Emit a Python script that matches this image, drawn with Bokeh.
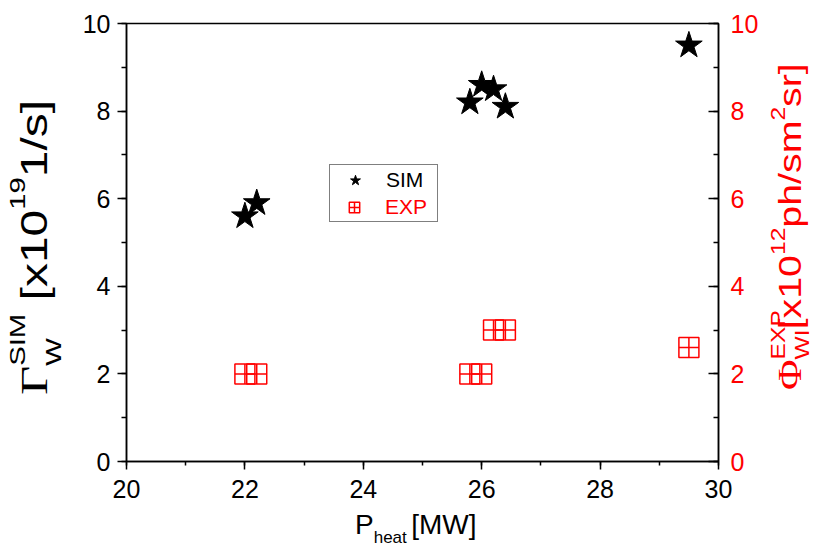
from bokeh.plotting import figure
from bokeh.models import (Range1d, LinearAxis, SingleIntervalTicker, Legend, LegendItem, Div)
from bokeh.layouts import column
from bokeh.embed import file_html
from bokeh.resources import INLINE

# ---- data ----
p_sim = [22.0, 22.2, 25.8, 26.0, 26.2, 26.4, 29.5]
gamma_sim = [5.6, 5.9, 8.2, 8.6, 8.5, 8.1, 9.5]
p_exp = [22.0, 22.2, 25.8, 26.0, 26.2, 26.4, 29.5]
phi_exp = [2.0, 2.0, 2.0, 2.0, 3.0, 3.0, 2.6]

SANS = "Liberation Sans"
SERIF = "Liberation Serif"
RED = "#FF0000"

FL, FT, FR, FB = 126, 23, 718, 461  # frame edges in page pixels
W, H = 820, 555

p = figure(width=W, height=H, output_backend="svg", toolbar_location=None,
           x_range=Range1d(20, 30), y_range=Range1d(0, 10),
           min_border_left=FL, min_border_right=W - FR, min_border_top=FT, min_border_bottom=H - FB,
           background_fill_color="white", border_fill_color="white")
p.extra_y_ranges = {"exp": Range1d(0, 10)}
p.grid.visible = False
p.outline_line_color = "black"
p.outline_line_width = 1.5

for ax in (p.xaxis[0], p.yaxis[0]):
    ax.ticker = SingleIntervalTicker(interval=2, num_minor_ticks=2)
    ax.axis_line_width = 1.5
    ax.major_tick_line_width = 1.5
    ax.minor_tick_line_width = 1.5
    ax.major_tick_in = 0
    ax.minor_tick_in = 0
    ax.major_label_text_font = SANS
    ax.major_label_text_font_size = "25px"
    ax.major_label_text_color = "black"
p.xaxis[0].major_tick_out = 8
p.xaxis[0].minor_tick_out = 4
p.xaxis[0].major_label_standoff = 10
p.yaxis[0].major_tick_out = 9
p.yaxis[0].minor_tick_out = 5
p.yaxis[0].major_label_standoff = 7

rax = LinearAxis(y_range_name="exp", ticker=SingleIntervalTicker(interval=2, num_minor_ticks=2))
rax.axis_line_width = 1.5
rax.major_tick_line_width = 1.5
rax.minor_tick_line_width = 1.5
rax.major_tick_in = 10
rax.major_tick_out = 0
rax.minor_tick_in = 5
rax.minor_tick_out = 0
rax.major_label_standoff = 12
rax.major_label_text_font = SANS
rax.major_label_text_font_size = "25px"
rax.major_label_text_color = RED
p.add_layout(rax, "right")

sim_r = p.scatter(p_sim, gamma_sim, marker="star", size=28, fill_color="black", line_color="black")
exp_r = p.scatter(p_exp, phi_exp, marker="square_cross", size=20, fill_color=None,
                  line_color=RED, line_width=1.5, y_range_name="exp")
dummy = p.scatter([], [], marker="circle", size=1, fill_alpha=0, line_alpha=0)

# ---- legend (two overlaid legends for differently coloured labels) ----
leg_loc = (329 - FL, FB - 222)
common = dict(location=leg_loc, padding=2, spacing=0, glyph_width=46, glyph_height=26,
              label_height=26, label_width=49, label_standoff=8,
              label_text_font=SANS, label_text_font_size="21px", margin=0)
leg1 = Legend(items=[LegendItem(label="SIM", renderers=[sim_r]),
                     LegendItem(label=" ", renderers=[dummy])],
              border_line_color="black", border_line_width=1.2,
              background_fill_color="white", background_fill_alpha=1.0,
              label_text_color="black", **common)
leg2 = Legend(items=[LegendItem(label="EXP", renderers=[exp_r])],
              border_line_alpha=0, background_fill_alpha=0,
              label_text_color=RED, **common)
p.add_layout(leg1)
p.add_layout(leg2)

# ---- axis titles (HTML text with sub/superscripts) ----
AW = {' ': 278, '[': 278, ']': 278, 'x': 500, '0': 556, '1': 556, '2': 556, '9': 556,
      '/': 278, 's': 500, 'p': 556, 'h': 556, 'm': 833, 'r': 333, 'S': 667, 'I': 278,
      'M': 833, 'W': 944, 'E': 667, 'X': 667, 'P': 667, 'e': 556, 'a': 556, 't': 278,
      'Γ': 578, 'Φ': 763}
def tw(s, size):
    return sum(AW.get(c, 556) for c in s) * size / 1000.0

def span(text, size, shift=0, font=SANS, extra=""):
    st = f"font-family:'{font}';font-size:{size}px;"
    if shift:
        st += f"position:relative;top:{shift}px;"
    return f'<span style="{st}{extra}">{text}</span>'

def title_div(html, left, top, color, size, rotate=False, stretch=1.0):
    styles = {"position": "absolute", "left": f"{left:.1f}px", "top": f"{top:.1f}px",
              "color": color, "white-space": "nowrap", "line-height": "1",
              "font-family": SANS, "font-size": f"{size}px", "margin": "0", "padding": "0",
              "width": "max-content"}
    if rotate:
        styles["transform"] = f"rotate(-90deg) scale({stretch:.3f}, 1)"
        styles["transform-origin"] = "0 0"
    return Div(text=html, styles=styles)

ASC_SANS, ASC_SERIF = 0.8465, 0.8375

# bottom: P_heat [MW]
F, S = 28, 17
html_x = (span("P", F) + span("heat", S, shift=9) + span(" ", 16) + span("[MW]", F))
div_x = title_div(html_x, 355, 535 - ASC_SANS * F, "black", F)

# left: Γ_W^SIM [x10^19 1/s]
F, S, G = 36, 22, 38
w_sub = tw("W", S)
html_l = (span("Γ", G, font=SERIF) + span("W", S, shift=14)
          + span("SIM", S, shift=-22, extra=f"margin-left:-{w_sub:.1f}px;")
          + span(" ", F) + span("[x10", F) + span("19", S, shift=-22) + span("1/s]", F))
nat_l = tw("Γ", G) + tw("SIM", S) + tw(" ", F) + tw("[x10", F) + tw("19", S) + tw("1/s]", F)
start_l, end_l = 395, 100
div_l = title_div(html_l, 47 - ASC_SERIF * G, start_l, "black", F, rotate=True,
                  stretch=(start_l - end_l) / nat_l)

# right: Φ_WI^EXP [x10^12 ph/sm^2 sr]
F, S, G = 32, 20, 34
w_sub, w_sup = tw("WI", S), tw("EXP", S)
html_r = (span("Φ", G, font=SERIF) + span("WI", S, shift=8)
          + span("EXP", S, shift=-16,
                 extra=f"margin-left:-{w_sub:.1f}px;margin-right:-{w_sup - w_sub:.1f}px;")
          + span("[x10", F) + span("12", S, shift=-16) + span("ph/sm", F)
          + span("2", S, shift=-16) + span("sr]", F))
nat_r = (tw("Φ", G) + tw("WI", S) + tw("[x10", F) + tw("12", S) + tw("ph/sm", F)
         + tw("2", S) + tw("sr]", F))
start_r, end_r = 390, 62
div_r = title_div(html_r, 801 - ASC_SERIF * G, start_r, RED, F, rotate=True,
                  stretch=(start_r - end_r) / nat_r)

layout = column(p, div_x, div_l, div_r, styles={"position": "relative"})

open("out.html", "w").write(file_html(layout, INLINE))
